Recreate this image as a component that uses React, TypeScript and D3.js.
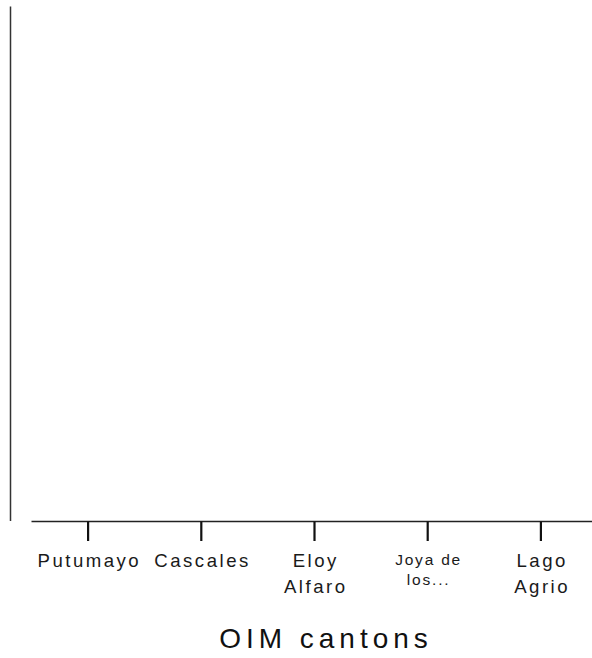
import React from "react";
import * as d3 from "d3";

const categories = ["Putumayo", "Cascales", "Eloy Alfaro", "Joya de los Sachas", "Lago Agrio"];
const tickLabels: string[][] = [["Putumayo"], ["Cascales"], ["Eloy", "Alfaro"], ["Joya de", "los..."], ["Lago", "Agrio"]];
const smallLabel = [false, false, false, true, false];
const axisTitle = "OIM cantons";

const W = 592, H = 658;
const FONT = "'Liberation Sans', Arial, sans-serif";

export default function App() {
  const x = d3.scaleBand<string>().domain(categories).range([31.5, 597.5]);
  const y = d3.scaleLinear().domain([0, 1]).range([521, 6.5]);
  const axisY = 521.5;
  return (
    <svg width={W} height={H} style={{ position: "absolute", left: 0, top: 0 }}>
      <rect width={W} height={H} fill="#fff" />
      <line x1={10.5} x2={10.5} y1={y(1)} y2={y(0)} stroke="#333" strokeWidth={1.5} />
      <line x1={x.range()[0]} x2={x.range()[1]} y1={axisY} y2={axisY} stroke="#222" strokeWidth={1.5} />
      {categories.map((c, i) => {
        const cx = (x(c) as number) + x.bandwidth() / 2;
        const small = smallLabel[i];
        const fs = small ? 15.5 : 18.6;
        const lh = small ? 20 : 26;
        const y0 = small ? 565 : 566.5;
        const ls = small ? 1.8 : 2.5;
        return (
          <g key={c}>
            <line x1={cx} x2={cx} y1={axisY} y2={541} stroke="#111" strokeWidth={2.2} />
            {tickLabels[i].map((t, j) => (
              <text key={j} x={cx + ls / 2} y={y0 + j * lh} textAnchor="middle" fontFamily={FONT} fontSize={fs}
                letterSpacing={ls} fill="#1a1a1a">{t}</text>
            ))}
          </g>
        );
      })}
      <text x={326} y={648} textAnchor="middle" fontFamily={FONT} fontSize={28} letterSpacing={5} fill="#111">{axisTitle}</text>
    </svg>
  );
}
